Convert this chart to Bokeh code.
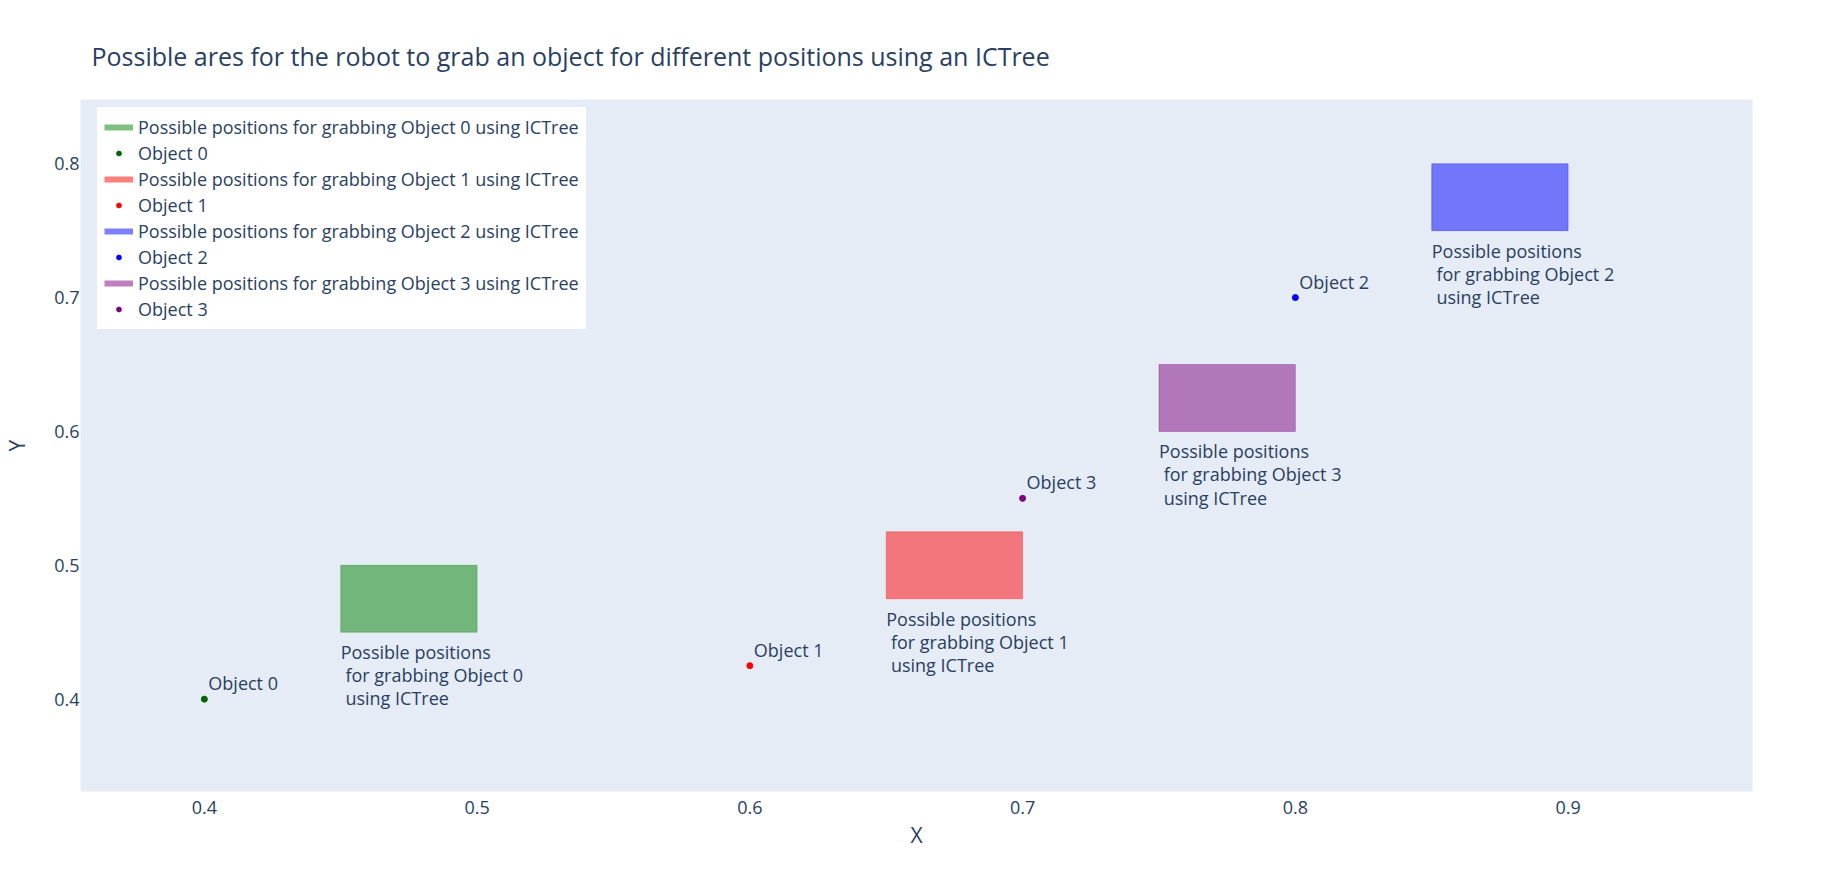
from bokeh.plotting import figure
from bokeh.models import ColumnDataSource, Legend, LegendItem, FixedTicker, Range1d
from bokeh.core.properties import value
from bokeh.embed import file_html
from bokeh.resources import INLINE

# ---- data ----
objects = ["Object 0", "Object 1", "Object 2", "Object 3"]
obj_x = [0.4, 0.6, 0.8, 0.7]
obj_y = [0.4, 0.425, 0.7, 0.55]
area_x0 = [0.45, 0.65, 0.85, 0.75]
area_x1 = [0.5, 0.7, 0.9, 0.8]
area_y0 = [0.45, 0.475, 0.75, 0.6]
area_y1 = [0.5, 0.525, 0.8, 0.65]
area_colors = ["green", "red", "blue", "purple"]
point_colors = ["darkgreen", "red", "blue", "purple"]
x_ticks = [0.4, 0.5, 0.6, 0.7, 0.8, 0.9]
y_ticks = [0.4, 0.5, 0.6, 0.7, 0.8]
TITLE = "Possible ares for the robot to grab an object for different positions using an ICTree"

FONT = "Open Sans"
TXT = "#2a3f5f"
NB = "\u00a0"
FS = "18px"

p = figure(width=1816, height=855, output_backend="svg", toolbar_location=None,
           x_range=Range1d(0.3546, 0.9676), y_range=Range1d(0.331, 0.848),
           min_border_left=79, min_border_right=64, min_border_top=99, min_border_bottom=64,
           title=TITLE)

p.background_fill_color = "#E5ECF6"
p.border_fill_color = "white"
p.outline_line_color = None
p.grid.grid_line_color = None

p.title.text_font = FONT
p.title.text_font_size = "25px"
p.title.text_font_style = "normal"
p.title.text_color = TXT
p.title.align = "left"
p.title.vertical_align = "top"
p.title.offset = 11
p.title.standoff = 50

for ax in (p.xaxis[0], p.yaxis[0]):
    ax.axis_line_color = None
    ax.major_tick_line_color = None
    ax.minor_tick_line_color = None
    ax.major_tick_out = 0
    ax.major_tick_in = 0
    ax.minor_tick_out = 0
    ax.minor_tick_in = 0
    ax.major_label_text_font = FONT
    ax.major_label_text_font_size = FS
    ax.major_label_text_color = TXT
    ax.axis_label_text_font = FONT
    ax.axis_label_text_font_size = "21px"
    ax.axis_label_text_font_style = "normal"
    ax.axis_label_text_color = TXT

p.xaxis.ticker = FixedTicker(ticks=x_ticks)
p.yaxis.ticker = FixedTicker(ticks=y_ticks)
p.xaxis.axis_label = "X"
p.yaxis.axis_label = "Y"
p.xaxis.major_label_standoff = 9
p.yaxis.major_label_standoff = 1
p.xaxis.axis_label_standoff = 4
p.yaxis.axis_label_standoff = 20

items = []
for i in range(4):
    src = ColumnDataSource(dict(left=[area_x0[i]], right=[area_x1[i]],
                                bottom=[area_y0[i]], top=[area_y1[i]]))
    p.quad(left="left", right="right", bottom="bottom", top="top", source=src,
           fill_color=area_colors[i], fill_alpha=0.5,
           line_color=area_colors[i], line_alpha=0.3, line_width=1)
    # line renderer used only for the legend swatch (single point draws nothing)
    leg_line = p.line(x=[area_x0[i]], y=[area_y0[i]], line_color=area_colors[i],
                      line_alpha=0.5, line_width=6)

    psrc = ColumnDataSource(dict(x=[obj_x[i]], y=[obj_y[i]], t=[objects[i]]))
    pts = p.scatter(x="x", y="y", source=psrc, size=6, color=point_colors[i])
    p.text(x="x", y="y", text="t", source=psrc, x_offset=4, y_offset=-4,
           text_font=value(FONT), text_font_size=FS, text_color=TXT,
           text_baseline="bottom", text_align="left")

    label = ("Possible positions\n" + NB + "for grabbing " + objects[i] + "\n" + NB + "using ICTree")
    lsrc = ColumnDataSource(dict(x=[area_x0[i]], y=[area_y0[i]], t=[label]))
    p.text(x="x", y="y", text="t", source=lsrc, x_offset=0, y_offset=8,
           text_font=value(FONT), text_font_size=FS, text_color=TXT,
           text_baseline="top", text_align="left", text_line_height=0.96)

    items.append(LegendItem(label="Possible positions for grabbing " + objects[i] + " using ICTree",
                            renderers=[leg_line]))
    items.append(LegendItem(label=objects[i], renderers=[pts]))

legend = Legend(items=items, location=(17, 462), orientation="vertical",
                label_text_font=FONT, label_text_font_size=FS, label_text_color=TXT,
                glyph_width=29, glyph_height=12, label_height=26, spacing=0, padding=6,
                label_standoff=5, margin=0,
                background_fill_color="white", background_fill_alpha=1.0,
                border_line_color="white", border_line_width=1)
p.add_layout(legend, "center")

open("out.html", "w").write(file_html(p, INLINE))
